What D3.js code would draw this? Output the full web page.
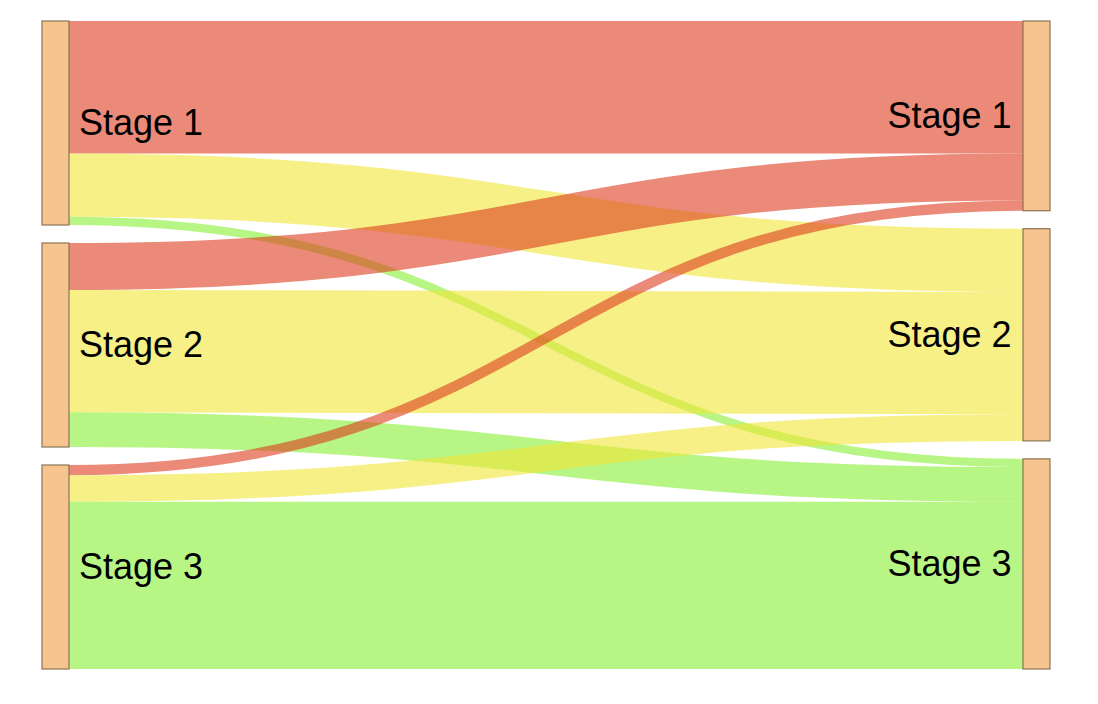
<!DOCTYPE html>
<html>
<head>
<meta charset="utf-8">
<script src="https://cdn.jsdelivr.net/npm/d3@7"></script>
<style>
  html, body { margin: 0; padding: 0; background: #fff; }
  svg { display: block; }
</style>
</head>
<body>
<svg id="chart" width="1098" height="704"></svg>
<script>
// ---- data ----
const stages = ["Stage 1", "Stage 2", "Stage 3"];
const flowsFromStage1 = [65, 31, 4];   // to Stage 1, Stage 2, Stage 3
const flowsFromStage2 = [23, 60, 17];
const flowsFromStage3 = [5, 13, 82];

// ---- styles ----
const targetColors = ["rgb(222,60,30)", "rgb(240,230,55)", "rgb(135,238,50)"];
const linkOpacity = 0.6;
const nodeFill = "#f6c48e";
const nodeStroke = "#8b7355";

// ---- layout (small sankey) ----
const X0 = 42, X1 = 1050, Y0 = 21, Y1 = 669, NODE_W = 27, PAD = 18;

const flowRows = [flowsFromStage1, flowsFromStage2, flowsFromStage3];
const leftNodes = stages.map((name, i) => ({ name, col: 0, i }));
const rightNodes = stages.map((name, i) => ({ name, col: 1, i }));
const links = [];
flowRows.forEach((row, s) => row.forEach((v, t) => {
  links.push({ source: leftNodes[s], target: rightNodes[t], value: v, colorIdx: t });
}));
leftNodes.forEach(n => n.value = d3.sum(links.filter(l => l.source === n), l => l.value));
rightNodes.forEach(n => n.value = d3.sum(links.filter(l => l.target === n), l => l.value));

const columns = [leftNodes, rightNodes];
const ky = d3.min(columns, c => (Y1 - Y0 - (c.length - 1) * PAD) / d3.sum(c, n => n.value));
const vScale = d3.scaleLinear().domain([0, 1]).range([0, ky]);
const xScale = d3.scaleLinear().domain([0, 1]).range([X0, X1 - NODE_W]);

columns.forEach((col, ci) => {
  let y = Y0;
  col.forEach(n => {
    n.x0 = xScale(ci); n.x1 = n.x0 + NODE_W;
    n.y0 = y; n.y1 = y + vScale(n.value);
    y = n.y1 + PAD;
  });
});
links.forEach(l => l.width = vScale(l.value));
leftNodes.forEach(n => {
  let y = n.y0;
  links.filter(l => l.source === n).sort((a, b) => a.target.y0 - b.target.y0)
    .forEach(l => { l.ys = y + l.width / 2; y += l.width; });
});
rightNodes.forEach(n => {
  let y = n.y0;
  links.filter(l => l.target === n).sort((a, b) => a.source.y0 - b.source.y0)
    .forEach(l => { l.yt = y + l.width / 2; y += l.width; });
});

// ---- draw ----
const svg = d3.select("#chart");
const linkPath = d3.linkHorizontal()
  .source(d => [d.source.x1, d.ys])
  .target(d => [d.target.x0, d.yt]);

svg.append("g").attr("fill", "none")
  .selectAll("path").data(links).join("path")
  .attr("d", linkPath)
  .attr("stroke", d => targetColors[d.colorIdx])
  .attr("stroke-opacity", linkOpacity)
  .attr("stroke-width", d => d.width);

const allNodes = leftNodes.concat(rightNodes);
svg.append("g").selectAll("rect").data(allNodes).join("rect")
  .attr("x", d => d.x0).attr("y", d => d.y0)
  .attr("width", d => d.x1 - d.x0).attr("height", d => d.y1 - d.y0)
  .attr("fill", nodeFill).attr("stroke", nodeStroke).attr("stroke-width", 1.2);

svg.append("g")
  .attr("font-family", "'Liberation Sans', Arial, Helvetica, sans-serif")
  .attr("font-size", 36)
  .selectAll("text").data(allNodes).join("text")
  .attr("x", d => d.col === 0 ? d.x1 + 10 : d.x0 - 11.5)
  .attr("y", d => (d.y0 + d.y1) / 2)
  .attr("dy", "0.33em")
  .attr("text-anchor", d => d.col === 0 ? "start" : "end")
  .attr("fill", "#000")
  .text(d => d.name);
</script>
</body>
</html>
